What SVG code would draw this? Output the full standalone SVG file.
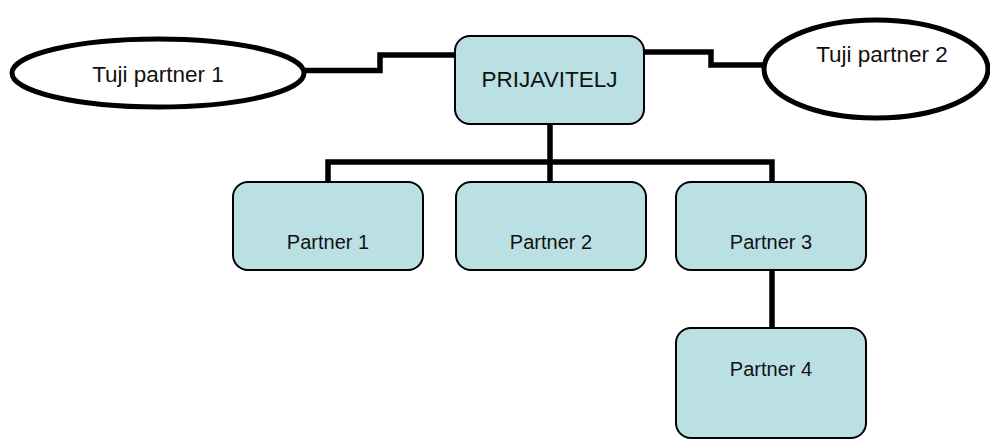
<svg xmlns="http://www.w3.org/2000/svg" width="990" height="439" viewBox="0 0 990 439">
<style>
.box{fill:#BBE0E3;stroke:#000;stroke-width:2}
.ell{fill:#fff;stroke:#000;stroke-width:5}
.conn{fill:none;stroke:#000;stroke-width:5.5}
.t{font-family:"Liberation Sans",Arial,sans-serif;fill:#111;text-anchor:middle}
.big{font-size:22.5px}
.small{font-size:20px}
</style>
<rect width="990" height="439" fill="#fff"/>
<g id="connectors">
<polyline class="conn" points="455,55 380,55 380,70.5 303,70.5"/>
<polyline class="conn" points="644,52 711,52 711,65 765,65"/>
<polyline class="conn" points="550,124 550,162"/>
<polyline class="conn" points="328,182 328,162 772,162 772,182"/>
<polyline class="conn" points="550,162 550,182"/>
<polyline class="conn" points="772,270 772,328"/>
</g>
<g id="tuji1">
<ellipse class="ell" cx="158" cy="73" rx="146" ry="34"/>
<text class="t big" x="158" y="82">Tuji partner 1</text>
</g>
<g id="tuji2">
<ellipse class="ell" cx="876" cy="69" rx="112" ry="49"/>
<text class="t big" x="882" y="62">Tuji partner 2</text>
</g>
<g id="prijavitelj">
<rect class="box" x="455" y="36" width="189" height="88" rx="15"/>
<text class="t big" x="549.5" y="87">PRIJAVITELJ</text>
</g>
<g id="partner1">
<rect class="box" x="233" y="182" width="190" height="88" rx="15"/>
<text class="t small" x="328" y="249">Partner 1</text>
</g>
<g id="partner2">
<rect class="box" x="456" y="182" width="190" height="88" rx="15"/>
<text class="t small" x="551" y="249">Partner 2</text>
</g>
<g id="partner3">
<rect class="box" x="676" y="182" width="190" height="88" rx="15"/>
<text class="t small" x="771" y="249">Partner 3</text>
</g>
<g id="partner4">
<rect class="box" x="676" y="328" width="190" height="110" rx="15"/>
<text class="t small" x="771" y="376">Partner 4</text>
</g>
</svg>
